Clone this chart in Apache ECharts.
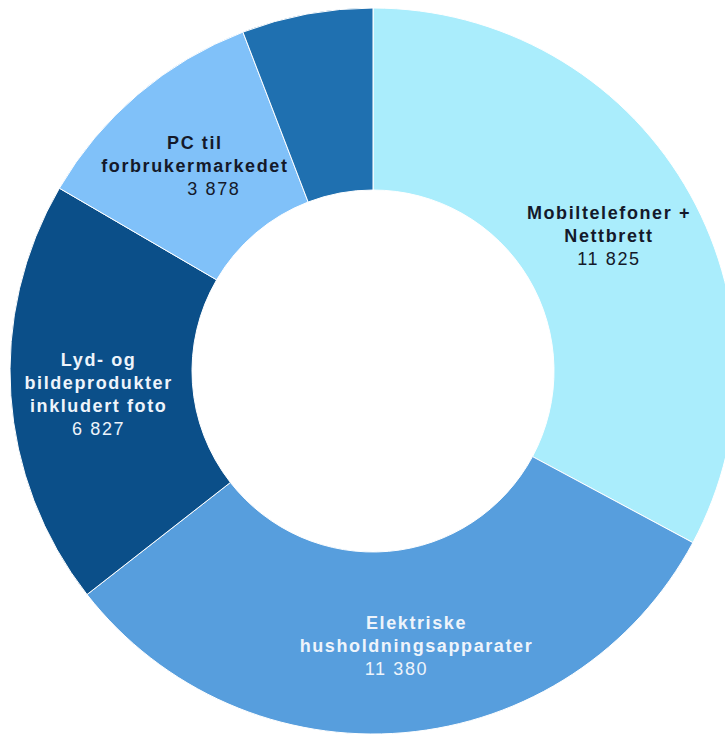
<!DOCTYPE html>
<html>
<head>
<meta charset="utf-8">
<script src="https://cdn.jsdelivr.net/npm/echarts@6/dist/echarts.min.js"></script>
<style>
html, body { margin: 0; padding: 0; background: #ffffff; }
#canvas_main { width: 725px; height: 734px; }
#canvas_main text { letter-spacing: 1.6px; }
</style>
</head>
<body>
<div id="canvas_main"></div>
<script>
// data
var names = ['Mobiltelefoner +\nNettbrett', 'Elektriske\nhusholdningsapparater', 'Lyd- og\nbildeprodukter\ninkludert foto', 'PC til\nforbrukermarkedet', 'Annet'];
var values = [11825, 11380, 6827, 3878, 2100];
var colors = ['#aaedfc', '#579edd', '#0b4f89', '#80c1f9', '#1f70b0'];
var textColors = ['#14192a', '#eef4fb', '#eef4fb', '#14192a', '#eef4fb'];
var showLabel = [true, true, true, true, false];
// nudges (px) of the labels, as in the original layout
var nameShift = [0, 20, 0, 0, 0];
var valueShift = [0, 0, 0, 19, 0];
var labelDy = [6, 1, 5, 4, 0];

function fmt(v) {
	return String(v).replace(/\B(?=(\d{3})+(?!\d))/g, ' ');
}

function pad(shift) {
	return shift >= 0 ? [0, 0, 0, shift * 2] : [0, -shift * 2, 0, 0];
}

var myChart = echarts.init(document.getElementById('canvas_main'), null, { renderer: 'svg' });

var data = [];
for (var i = 0; i < names.length; i++) {
	data.push({
		name: names[i],
		value: values[i],
		itemStyle: { color: colors[i] },
		label: {
			show: showLabel[i],
			color: textColors[i],
			offset: [0, labelDy[i]],
			rich: {
				n: { fontWeight: 'bold', fontSize: 18, lineHeight: 23, color: textColors[i], fontFamily: 'Liberation Sans', align: 'center', padding: pad(nameShift[i]) },
				v: { fontSize: 18, lineHeight: 23, color: textColors[i], fontFamily: 'Liberation Sans', align: 'center', padding: pad(valueShift[i]) }
			}
		}
	});
}

var option = {
	animation: false,
	series: [{
		type: 'pie',
		radius: [181, 363],
		center: [373, 371],
		startAngle: 90,
		clockwise: true,
		data: data,
		itemStyle: {
			borderColor: '#ffffff',
			borderWidth: 1
		},
		label: {
			position: 'inside',
			formatter: function (p) {
				var lines = p.name.split('\n').map(function (s) { return '{n|' + s + '}'; });
				return lines.join('\n') + '\n{v|' + fmt(p.value) + '}';
			}
		},
		labelLine: { show: false }
	}]
};
myChart.setOption(option);
</script>
</body>
</html>
